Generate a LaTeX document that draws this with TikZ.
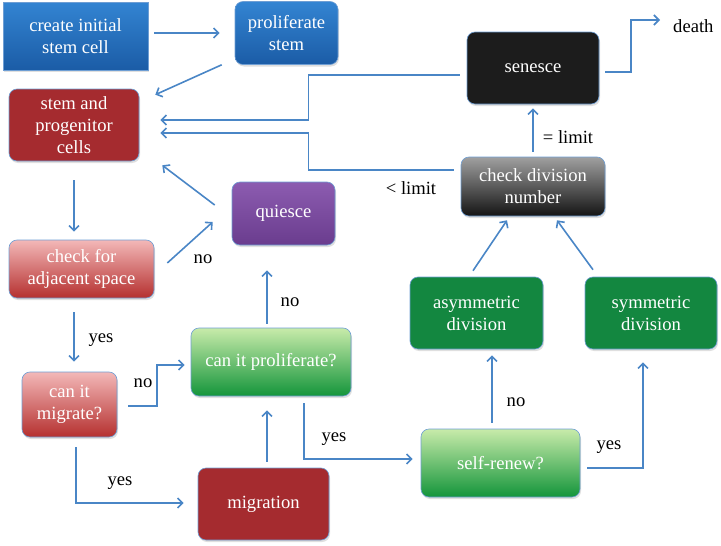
\documentclass[tikz,border=0pt]{standalone}
\usepackage{fontspec}
\setmainfont{Liberation Serif}
\usepackage{tikz}
\usetikzlibrary{arrows.meta,shadows}

\definecolor{flowblue}{HTML}{4A86C6}
\definecolor{edgeblue}{HTML}{6E9ED4}
\definecolor{bluetop}{HTML}{3384D2}
\definecolor{bluebottom}{HTML}{1B5CA6}
\definecolor{stemred}{HTML}{A52B2F}
\definecolor{pinktop}{HTML}{F3B8B8}
\definecolor{pinkbottom}{HTML}{B5302F}
\definecolor{purpletop}{HTML}{8C5CB0}
\definecolor{purplebottom}{HTML}{6A3C8E}
\definecolor{greentop}{HTML}{C8EBAA}
\definecolor{greenbottom}{HTML}{14953B}
\definecolor{leafgreen}{HTML}{138740}
\definecolor{graytop}{HTML}{A0A0A0}
\definecolor{graybottom}{HTML}{141414}
\definecolor{senescegray}{HTML}{1C1C1C}

\tikzset{
  box/.style={draw=edgeblue, line width=0.6pt, rounded corners=8pt, text=white,
              align=center, inner sep=0pt,
              font=\fontsize{18.6}{22}\selectfont,
              drop shadow={opacity=0.25, shadow xshift=1pt, shadow yshift=-2pt}},
  bluebox/.style={box, top color=bluetop, bottom color=bluebottom},
  redbox/.style={box, fill=stemred},
  pinkbox/.style={box, top color=pinktop, bottom color=pinkbottom},
  purplebox/.style={box, top color=purpletop, bottom color=purplebottom},
  greenbox/.style={box, top color=greentop, bottom color=greenbottom},
  leafbox/.style={box, fill=leafgreen},
  graybox/.style={box, top color=graytop, bottom color=graybottom},
  blackbox/.style={box, fill=senescegray},
  lbl/.style={font=\fontsize{18.6}{22}\selectfont, inner sep=0pt},
  flow/.style={draw=flowblue, line width=1.6pt, -{Straight Barb[length=5pt,width=10pt]}}
}

\begin{document}
\begin{tikzpicture}[x=1pt, y=-1pt]
  \useasboundingbox (0,0) rectangle (721,546);

  \node[bluebox, rounded corners=0pt, minimum width=145pt, minimum height=68pt] (create) at (75.5,36) {create initial\\stem cell};
  \node[bluebox, minimum width=103pt, minimum height=63pt] (prolif) at (286.5,33) {proliferate\\stem};
  \node[redbox, minimum width=130pt, minimum height=72pt] (stem) at (74,125) {stem and\\progenitor\\cells};
  \node[pinkbox, minimum width=145pt, minimum height=58pt] (checkadj) at (81.5,269) {check for\\adjacent space};
  \node[pinkbox, minimum width=95pt, minimum height=65pt] (canmig) at (69.5,404.5) {can it\\migrate?};
  \node[purplebox, minimum width=103pt, minimum height=63pt] (quiesce) at (283.5,213.5) {quiesce};
  \node[greenbox, minimum width=160pt, minimum height=68pt] (canprolif) at (271,362) {can it proliferate?};
  \node[redbox, minimum width=131pt, minimum height=72pt] (migration) at (263.5,504) {migration};
  \node[greenbox, minimum width=159pt, minimum height=68pt] (selfrenew) at (500.5,463) {self-renew?};
  \node[leafbox, minimum width=133pt, minimum height=72pt] (asym) at (476.5,313) {asymmetric\\division};
  \node[leafbox, minimum width=132pt, minimum height=72pt] (sym) at (651,313) {symmetric\\division};
  \node[graybox, minimum width=144pt, minimum height=59pt] (checkdiv) at (533,186.5) {check division\\number};
  \node[blackbox, minimum width=132pt, minimum height=72pt] (senesce) at (533,68) {senesce};
  \node[lbl, anchor=west] (death) at (673,26) {death};

  \node[lbl] (lessLimit) at (411,188) {< limit};
  \node[lbl] (eqLimit) at (568,137) {= limit};
  \node[lbl] (noAdj) at (203,259) {no};
  \node[lbl] (noProlif) at (290,302) {no};
  \node[lbl] (yesAdj) at (101,340) {yes};
  \node[lbl] (noMig) at (143,383) {no};
  \node[lbl] (yesMig) at (120,483) {yes};
  \node[lbl] (yesProlif) at (334,439) {yes};
  \node[lbl] (noRenew) at (516,402) {no};
  \node[lbl] (yesRenew) at (609,447) {yes};

  \draw[flow, shorten <=6pt, shorten >=15pt] (create.east |- prolif) -- (prolif.west);
  \draw[flow] ([xshift=-13pt]prolif.south west) -- ([xshift=16pt,yshift=-6pt]stem.north east);
  \draw[flow] ([xshift=-7pt,yshift=-7pt]senesce.west) -| ([xshift=169pt,yshift=5pt]stem.east)
                                                      -- ([xshift=21pt,yshift=5pt]stem.east);
  \draw[flow] ([xshift=-7pt,yshift=16.5pt]checkdiv.west) -| ([xshift=169pt,yshift=-8pt]stem.east)
                                                         -- ([xshift=21pt,yshift=-8pt]stem.east);
  \draw[flow, shorten <=5pt, shorten >=4pt] (checkdiv.north) -- (senesce.south);
  \draw[flow] ([xshift=6pt,yshift=-4pt]senesce.east) -| ([xshift=-42pt,yshift=6pt]death.west)
                                                     -- ([xshift=-13pt,yshift=6pt]death.west);
  \draw[flow] ([xshift=-3.5pt,yshift=6pt]asym.north) -- ([xshift=-26pt,yshift=-4pt]checkdiv.south);
  \draw[flow] ([xshift=-58pt,yshift=7pt]sym.north) -- ([xshift=24pt,yshift=-4pt]checkdiv.south);
  \draw[flow] ([xshift=-8.5pt,yshift=6pt]selfrenew.north) -- ([xshift=15.5pt,yshift=-6pt]asym.south);
  \draw[flow] ([xshift=7pt,yshift=-5pt]selfrenew.east) -| ([xshift=-8pt,yshift=-13pt]sym.south);
  \draw[flow] ([xshift=33pt,yshift=-7pt]canprolif.south) |- ([xshift=-8pt,yshift=4pt]selfrenew.west);
  \draw[flow] ([xshift=3.5pt,yshift=6pt]migration.north) -- ([xshift=-4pt,yshift=-14pt]canprolif.south);
  \draw[flow] ([xshift=-4pt,yshift=4pt]canprolif.north) -- ([xshift=-16.5pt,yshift=-25pt]quiesce.south);
  \draw[flow] ([xshift=13pt,yshift=6pt]checkadj.east) -- ([xshift=-19pt,yshift=-8.5pt]quiesce.west);
  \draw[flow] ([xshift=-17pt,yshift=8.5pt]quiesce.west) -- ([xshift=23pt,yshift=-4pt]stem.south east);
  \draw[flow] ([yshift=-19pt]stem.south) -- ([xshift=-7.5pt,yshift=8pt]checkadj.north);
  \draw[flow] ([xshift=-7.5pt,yshift=-14pt]checkadj.south) -- ([xshift=4.5pt,yshift=10pt]canmig.north);
  \draw[flow] ([xshift=11pt,yshift=-1.5pt]canmig.east) -| ([xshift=-34pt,yshift=-3pt]canprolif.west)
                                                      -- ([xshift=-6pt,yshift=-3pt]canprolif.west);
  \draw[flow] ([xshift=6.5pt,yshift=-10pt]canmig.south) |- ([xshift=-14pt,yshift=1pt]migration.west);
\end{tikzpicture}
\end{document}
